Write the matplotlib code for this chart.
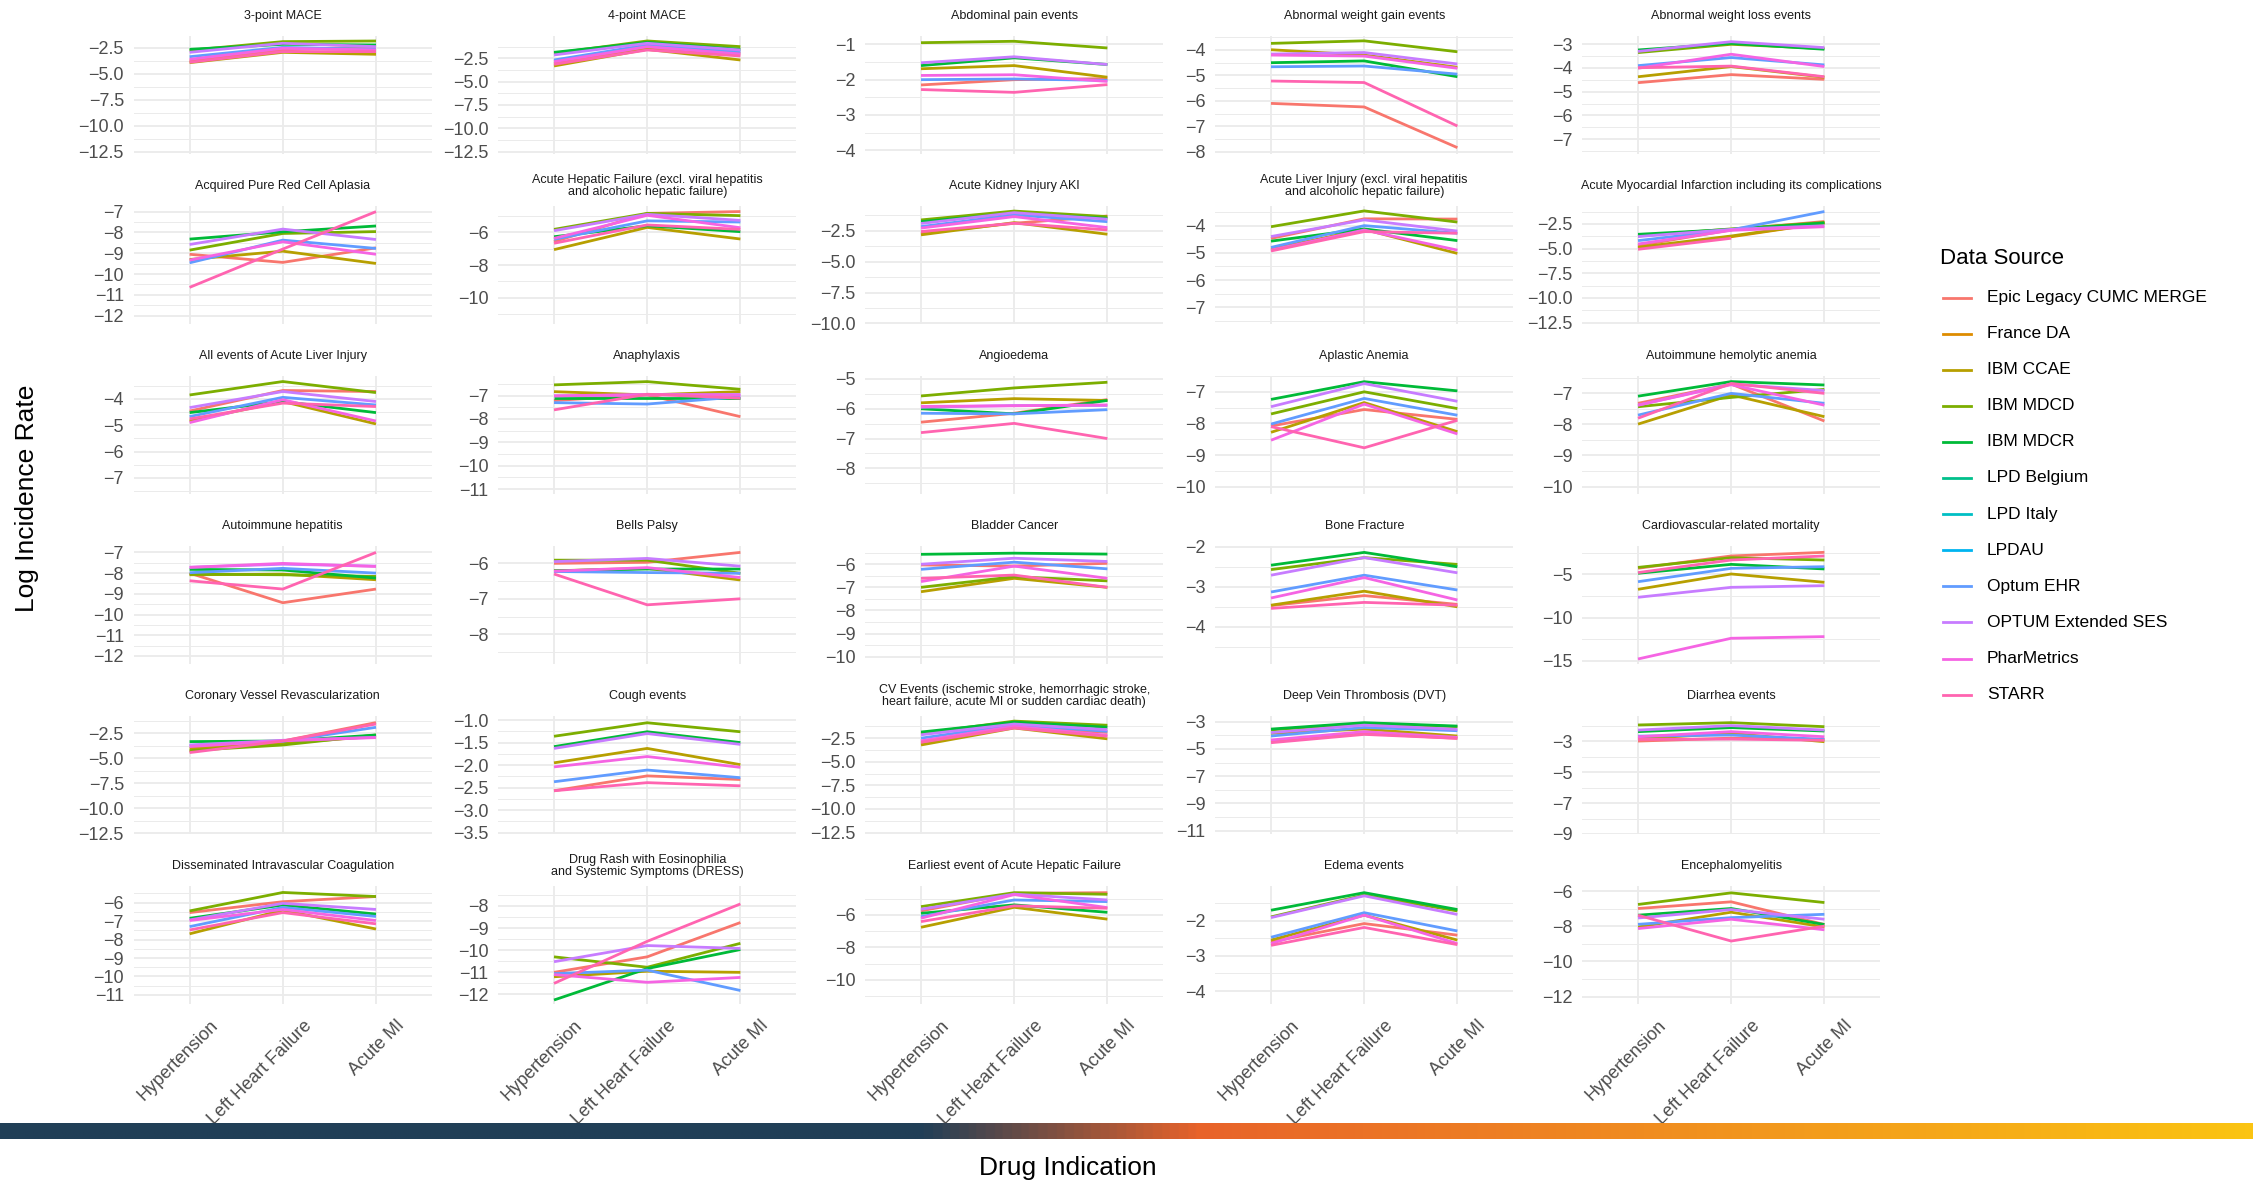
import numpy as np
import matplotlib
matplotlib.use("Agg")
import matplotlib.pyplot as plt
from matplotlib.colors import LinearSegmentedColormap
from matplotlib.lines import Line2D
from matplotlib.transforms import ScaledTranslation, blended_transform_factory
from matplotlib.ticker import FixedLocator, FuncFormatter

plt.rcParams['font.family'] = ['Liberation Sans', 'DejaVu Sans']

OUTCOMES = [
    "3-point MACE", "4-point MACE", "Abdominal pain events", "Abnormal weight gain events",
    "Abnormal weight loss events", "Acquired Pure Red Cell Aplasia",
    "Acute Hepatic Failure (excl. viral hepatitis\nand alcoholic hepatic failure)",
    "Acute Kidney Injury AKI",
    "Acute Liver Injury (excl. viral hepatitis\nand alcoholic hepatic failure)",
    "Acute Myocardial Infarction including its complications",
    "All events of Acute Liver Injury", "Anaphylaxis", "Angioedema", "Aplastic Anemia",
    "Autoimmune hemolytic anemia", "Autoimmune hepatitis", "Bells Palsy", "Bladder Cancer",
    "Bone Fracture", "Cardiovascular-related mortality", "Coronary Vessel Revascularization",
    "Cough events",
    "CV Events (ischemic stroke, hemorrhagic stroke,\nheart failure, acute MI or sudden cardiac death)",
    "Deep Vein Thrombosis (DVT)", "Diarrhea events", "Disseminated Intravascular Coagulation",
    "Drug Rash with Eosinophilia\nand Systemic Symptoms (DRESS)",
    "Earliest event of Acute Hepatic Failure", "Edema events", "Encephalomyelitis",
]
INDICATIONS = ["Hypertension", "Left Heart Failure", "Acute MI"]
SOURCES = ["Epic Legacy CUMC MERGE", "France DA", "IBM CCAE", "IBM MDCD", "IBM MDCR",
           "LPD Belgium", "LPD Italy", "LPDAU", "Optum EHR", "OPTUM Extended SES",
           "PharMetrics", "STARR"]

# log incidence rate per outcome: [Hypertension, Left Heart Failure, Acute MI]
EPIC = [
    [-3.78, -2.72, -2.40], [-3.04, -1.43, -1.96], [-2.15, -2.00, -1.97], [-6.10, -6.24, -7.84],
    [-4.62, -4.28, -4.48], [-9.05, -9.44, -8.74], [-6.57, -4.84, -4.73], [-2.69, -1.88, -1.29],
    [-4.47, -3.75, -3.76], [-4.70, -3.10, -2.25], [-4.46, -3.68, -3.72], [-7.21, -6.97, -7.90],
    [-6.45, -6.15, -5.69], [-8.08, -7.56, -7.87], [-7.32, -6.70, -7.89], [-8.00, -9.43, -8.77],
    [-6.00, -5.97, -5.69], [-6.03, -6.08, -5.96], [-3.47, -3.22, -3.44], [-4.30, -2.88, -2.46],
    [-4.33, -3.27, -1.43], [-2.57, -2.24, -2.32], [-3.04, -1.35, -1.89], [-4.47, -3.86, -4.22],
    [-3.00, -2.81, -2.89], [-6.54, -5.95, -5.67], [-11.00, -10.30, -8.75], [-5.75, -4.67, -4.63],
    [-2.60, -2.08, -2.41], [-6.99, -6.61, -7.90],
]
IBM_CCAE = [
    [-3.94, -2.95, -3.14], [-3.32, -1.54, -2.68], [-1.69, -1.60, -1.93], [-3.99, -4.20, -4.68],
    [-4.37, -3.94, -4.39], [-9.30, -8.90, -9.49], [-7.06, -5.70, -6.41], [-2.82, -1.83, -2.77],
    [-4.86, -4.14, -5.02], [-4.86, -3.72, -2.40], [-4.84, -4.10, -4.95], [-6.83, -6.97, -6.83],
    [-5.80, -5.66, -5.72], [-8.28, -7.34, -8.26], [-7.99, -7.05, -7.75], [-8.08, -8.05, -8.32],
    [-6.21, -6.14, -6.47], [-7.19, -6.61, -7.00], [-3.46, -3.11, -3.50], [-6.73, -4.96, -5.92],
    [-4.00, -3.50, -2.80], [-1.95, -1.63, -1.99], [-3.22, -1.42, -2.57], [-3.85, -3.54, -4.05],
    [-2.85, -2.50, -3.04], [-7.69, -6.41, -7.43], [-11.20, -10.95, -11.00], [-6.76, -5.53, -6.26],
    [-2.55, -1.84, -2.55], [-8.04, -7.20, -8.04],
]
IBM_MDCD = [
    [-2.75, -1.92, -1.86], [-1.96, -0.64, -1.25], [-0.95, -0.91, -1.10], [-3.74, -3.64, -4.07],
    [-3.35, -3.00, -3.18], [-8.85, -8.05, -7.96], [-5.82, -4.84, -4.98], [-1.61, -0.89, -1.34],
    [-4.04, -3.46, -3.87], [-3.72, -3.00, -2.35], [-3.85, -3.34, -3.76], [-6.54, -6.40, -6.73],
    [-5.57, -5.30, -5.11], [-7.70, -7.00, -7.53], [-7.43, -7.13, -6.87], [-8.05, -8.08, -8.16],
    [-5.91, -5.91, -6.28], [-7.00, -6.54, -6.72], [-2.57, -2.27, -2.44], [-4.20, -3.08, -3.35],
    [-4.23, -3.67, -2.67], [-1.36, -1.06, -1.26], [-2.00, -0.69, -1.13], [-3.60, -3.12, -3.37],
    [-1.96, -1.81, -2.07], [-6.45, -5.45, -5.67], [-10.30, -10.77, -9.69], [-5.49, -4.63, -4.73],
    [-1.89, -1.27, -1.72], [-6.76, -6.10, -6.65],
]
IBM_MDCR = [
    [-2.66, -2.18, -2.24], [-1.86, -0.79, -1.54], [-1.60, -1.38, -1.57], [-4.50, -4.43, -5.05],
    [-3.24, -2.96, -3.21], [-8.32, -7.97, -7.69], [-6.27, -5.60, -5.96], [-1.75, -1.08, -1.48],
    [-4.57, -4.12, -4.55], [-3.55, -3.05, -2.40], [-4.52, -4.10, -4.52], [-7.11, -7.11, -7.11],
    [-6.00, -6.17, -5.72], [-7.24, -6.68, -6.97], [-7.09, -6.62, -6.73], [-7.82, -7.85, -8.24],
    [-6.21, -6.16, -6.16], [-5.57, -5.52, -5.56], [-2.46, -2.14, -2.50], [-4.88, -3.85, -4.38],
    [-3.33, -3.27, -2.67], [-1.59, -1.26, -1.50], [-1.85, -0.80, -1.34], [-3.54, -3.07, -3.32],
    [-2.39, -2.13, -2.35], [-6.85, -6.13, -6.62], [-12.25, -10.83, -9.97], [-5.90, -5.38, -5.84],
    [-1.70, -1.20, -1.68], [-7.37, -6.99, -7.90],
]
OPTUM_EHR = [
    [-3.37, -2.47, -2.66], [-2.68, -1.07, -1.79], [-2.00, -1.98, -2.02], [-4.66, -4.63, -4.95],
    [-3.90, -3.56, -3.87], [-9.46, -8.37, -8.77], [-6.43, -5.30, -5.37], [-2.15, -1.20, -1.75],
    [-4.80, -4.00, -4.28], [-4.19, -3.10, -1.24], [-4.67, -3.94, -4.23], [-7.30, -7.36, -7.05],
    [-6.15, -6.17, -6.03], [-8.02, -7.21, -7.74], [-7.70, -7.00, -7.32], [-7.98, -7.77, -8.00],
    [-6.23, -6.26, -6.28], [-6.22, -5.91, -6.20], [-3.13, -2.71, -3.08], [-5.85, -4.31, -4.12],
    [-3.70, -3.30, -1.90], [-2.37, -2.11, -2.28], [-2.50, -1.07, -1.78], [-4.05, -3.42, -3.66],
    [-2.68, -2.61, -2.89], [-7.30, -6.26, -6.75], [-11.06, -10.90, -11.82], [-6.10, -5.08, -5.18],
    [-2.47, -1.77, -2.29], [-7.89, -7.51, -7.32],
]
OPTUM_SES = [
    [-2.95, -2.08, -2.40], [-2.14, -0.89, -1.61], [-1.52, -1.35, -1.57], [-4.16, -4.10, -4.55],
    [-3.30, -2.89, -3.14], [-8.58, -7.84, -8.34], [-5.90, -4.90, -5.27], [-1.90, -1.02, -1.55],
    [-4.40, -3.79, -4.20], [-3.78, -3.05, -2.68], [-4.33, -3.72, -4.10], [-7.01, -6.97, -6.95],
    [-5.95, -5.89, -5.89], [-7.47, -6.74, -7.30], [-7.38, -6.70, -6.91], [-7.72, -7.57, -7.66],
    [-5.95, -5.86, -6.08], [-6.00, -5.74, -5.88], [-2.71, -2.27, -2.65], [-7.65, -6.50, -6.31],
    [-3.67, -3.20, -2.90], [-1.63, -1.30, -1.54], [-2.14, -1.00, -1.60], [-3.80, -3.25, -3.56],
    [-2.29, -2.00, -2.29], [-6.94, -6.04, -6.37], [-10.52, -9.79, -9.92], [-5.65, -4.72, -5.08],
    [-1.91, -1.29, -1.82], [-7.53, -7.05, -7.60],
]
PHARMETRICS = [
    [-3.62, -2.56, -2.72], [-2.86, -1.25, -2.04], [-1.88, -1.86, -2.05], [-4.20, -4.24, -4.72],
    [-4.01, -3.42, -3.94], [-9.33, -8.45, -9.05], [-6.37, -4.96, -5.72], [-2.27, -1.34, -2.23],
    [-4.90, -4.16, -4.90], [-4.53, -3.15, -2.78], [-4.90, -4.03, -4.84], [-7.01, -6.95, -6.98],
    [-5.92, -5.90, -5.87], [-8.53, -7.39, -8.33], [-7.38, -6.72, -7.38], [-7.72, -7.53, -7.68],
    [-6.22, -6.12, -6.40], [-6.75, -6.08, -6.61], [-3.28, -2.77, -3.33], [-14.77, -12.38, -12.19],
    [-3.83, -3.25, -2.93], [-2.04, -1.81, -2.05], [-2.78, -1.24, -2.20], [-4.34, -3.73, -4.15],
    [-2.72, -2.39, -2.72], [-6.97, -6.37, -6.97], [-11.10, -11.45, -11.23], [-6.20, -4.75, -5.55],
    [-2.65, -1.84, -2.65], [-8.13, -7.60, -8.20],
]
STARR = [
    [-3.90, -2.88, -2.88], [-3.14, -1.61, -2.25], [-2.28, -2.36, -2.14], [-5.22, -5.28, -6.99],
    [-3.99, -3.92, -4.37], [-10.64, -8.80, -7.00], [-6.67, -5.55, -5.82], [-2.55, -1.88, -2.42],
    [-4.93, -4.22, -4.28], [-5.07, -3.95, None], [-4.76, -4.16, -4.29], [-7.61, -6.94, -7.11],
    [-6.80, -6.49, -7.00], [-8.10, -8.77, -7.90], [-7.80, -6.68, -7.00], [-8.37, -8.77, -7.00],
    [-6.30, -7.17, -7.00], [-6.61, -6.47, -7.00], [-3.54, -3.39, -3.46], [-4.80, -3.35, -2.88],
    [-4.43, -3.27, -1.57], [-2.57, -2.39, -2.46], [-2.93, -1.42, -2.29], [-4.54, -3.93, -4.22],
    [-2.89, -2.87, -2.95], [-7.48, -6.54, -7.15], [-11.50, -9.60, -7.91], [-6.41, -5.44, -5.59],
    [-2.70, -2.19, -2.68], [-7.37, -8.84, -7.99],
]
# sparse sources: outcome index -> values
FRANCE_DA = {9: [-4.95, -3.80, -2.40]}
LPD_BELGIUM = {}
LPD_ITALY = {}
LPDAU = {}

SOURCE_DATA = [EPIC, FRANCE_DA, IBM_CCAE, IBM_MDCD, IBM_MDCR, LPD_BELGIUM, LPD_ITALY, LPDAU,
               OPTUM_EHR, OPTUM_SES, PHARMETRICS, STARR]
COLORS = ["#F8766D", "#DE8C00", "#B79F00", "#7CAE00", "#00BA38", "#00C08B", "#00BFC4",
          "#00B4F0", "#619CFF", "#C77CFF", "#F564E3", "#FF64B0"]

# per-panel y scale
YLIM_LO = [-12.72, -12.75, -4.11, -8.09, -7.63, -12.40, -11.61, -10.05, -7.61, -12.64,
           -7.61, -11.21, -8.86, -10.23, -10.24, -12.39, -8.84, -10.32, -4.93, -15.35,
           -12.57, -3.53, -12.65, -11.24, -9.00, -11.49, -12.43, -11.48, -4.37, -12.42]
YLIM_HI = [-1.38, -0.11, -0.76, -3.45, -2.65, -6.73, -4.39, -0.48, -3.28, -0.68,
           -3.13, -6.16, -4.90, -6.50, -6.44, -6.69, -5.51, -5.21, -1.98, -1.73,
           -0.77, -0.91, -0.15, -2.58, -1.38, -5.10, -7.10, -4.22, -1.01, -5.71]
TICK_STEP = [2.5, 2.5, 1, 1, 1, 1, 2, 2.5, 1, 2.5,
             1, 1, 1, 1, 1, 1, 1, 1, 1, 5,
             2.5, 0.5, 2.5, 2, 2, 1, 1, 2, 1, 2]
TICK_OFFSET = [0, 0, 0, 0, 0, 0, 0, 0, 0, 0,
               0, 0, 0, 0, 0, 0, 0, 0, 0, 0,
               0, 0, 0, 1, 1, 0, 0, 0, 0, 0]

W, H = 2253, 1182
DPI = 100
fig = plt.figure(figsize=(W / DPI, H / DPI), dpi=DPI)
fig.patch.set_facecolor("white")

COL_LEFT = [133.7, 498.1, 865.1, 1215.1, 1582.1]
PANEL_W, PANEL_H = 298.2, 118
ROW_TOP0, ROW_STEP = 36, 170
GRID = "#EBEBEB"
TXT = "#4D4D4D"


def series_values(src, i):
    if isinstance(src, dict):
        v = src.get(i)
    else:
        v = src[i]
    if v is None:
        return None
    return np.array([np.nan if x is None else x for x in v], dtype=float)


def make_fmt(step):
    dec = 0 if float(step).is_integer() else 1
    return FuncFormatter(lambda v, p: f"{v:.{dec}f}".replace("-", "\u2212"))


xs = np.arange(1, len(INDICATIONS) + 1)
for i, outcome in enumerate(OUTCOMES):
    r, c = divmod(i, 5)
    top = ROW_TOP0 + ROW_STEP * r
    ax = fig.add_axes([COL_LEFT[c] / W, 1 - (top + PANEL_H) / H, PANEL_W / W, PANEL_H / H])
    lo, hi = YLIM_LO[i], YLIM_HI[i]
    step, off = TICK_STEP[i], TICK_OFFSET[i]
    k0 = np.ceil((lo - off) / step)
    k1 = np.floor((hi - off) / step)
    majors = [off + k * step for k in np.arange(k0, k1 + 1)]
    m0 = np.ceil((lo - off - step / 2) / step)
    m1 = np.floor((hi - off - step / 2) / step)
    minors = [off + step / 2 + k * step for k in np.arange(m0, m1 + 1)]

    for yv in minors:
        ax.axhline(yv, color=GRID, lw=0.7, zorder=0)
    for yv in majors:
        ax.axhline(yv, color=GRID, lw=1.3, zorder=0)
    for xv in xs:
        ax.axvline(xv, color=GRID, lw=1.3, zorder=0)

    for src, col in zip(SOURCE_DATA, COLORS):
        vals = series_values(src, i)
        if vals is None:
            continue
        ax.plot(xs, vals, color=col, lw=2.0, solid_capstyle="butt", zorder=2)

    ax.set_xlim(0.4, 3.6)
    ax.set_ylim(lo, hi)
    ax.yaxis.set_major_locator(FixedLocator(majors))
    ax.yaxis.set_major_formatter(make_fmt(step))
    ax.set_xticks([])
    ax.tick_params(axis="y", length=0, pad=7, labelsize=13, labelcolor=TXT)
    for s in ax.spines.values():
        s.set_visible(False)
    ax.set_facecolor("none")

    # strip title
    cx = (COL_LEFT[c] + PANEL_W / 2) / W
    fig.text(cx, 1 - (top - 20) / H, outcome, ha="center", va="center", fontsize=9,
             color="#1A1A1A", linespacing=1.05, multialignment="center")

    if r == 5:
        trans = blended_transform_factory(ax.transData, ax.transAxes) + \
            ScaledTranslation(20 / DPI, -13 / DPI, fig.dpi_scale_trans)
        for xv, lab in zip(xs, INDICATIONS):
            ax.text(xv, 0, lab, transform=trans, rotation=45, ha="right", va="top",
                    rotation_mode="anchor", fontsize=13, color=TXT)

# axis titles
fig.text(27 / W, 1 - 498 / H, "Log Incidence Rate", rotation=90, ha="center", va="center",
         fontsize=19, color="black")
fig.text(1068 / W, 1 - 1168 / H, "Drug Indication", ha="center", va="center",
         fontsize=19, color="black")

# legend
fig.text(1940 / W, 1 - 258 / H, "Data Source", ha="left", va="center", fontsize=16,
         color="black")
for k, (name, col) in enumerate(zip(SOURCES, COLORS)):
    yy = 1 - (297.5 + 36.1 * k) / H
    fig.add_artist(Line2D([1943 / W, 1971 / W], [yy, yy], transform=fig.transFigure,
                          color=col, lw=2.0))
    fig.text(1987 / W, yy, name, ha="left", va="center", fontsize=12.5, color="black")

# gradient band
gcmap = LinearSegmentedColormap.from_list(
    "band", [(0.0, "#213F57"), (0.409, "#213F57"), (0.533, "#E8632A"), (1.0, "#FBC412")])
gax = fig.add_axes([0, 1 - 1139 / H, 1, 16 / H])
gax.imshow(np.linspace(0, 1, 1200)[None, :], aspect="auto", cmap=gcmap,
           extent=[0, 1, 0, 1])
gax.axis("off")

fig.savefig("out.png", dpi=DPI, facecolor="white")
